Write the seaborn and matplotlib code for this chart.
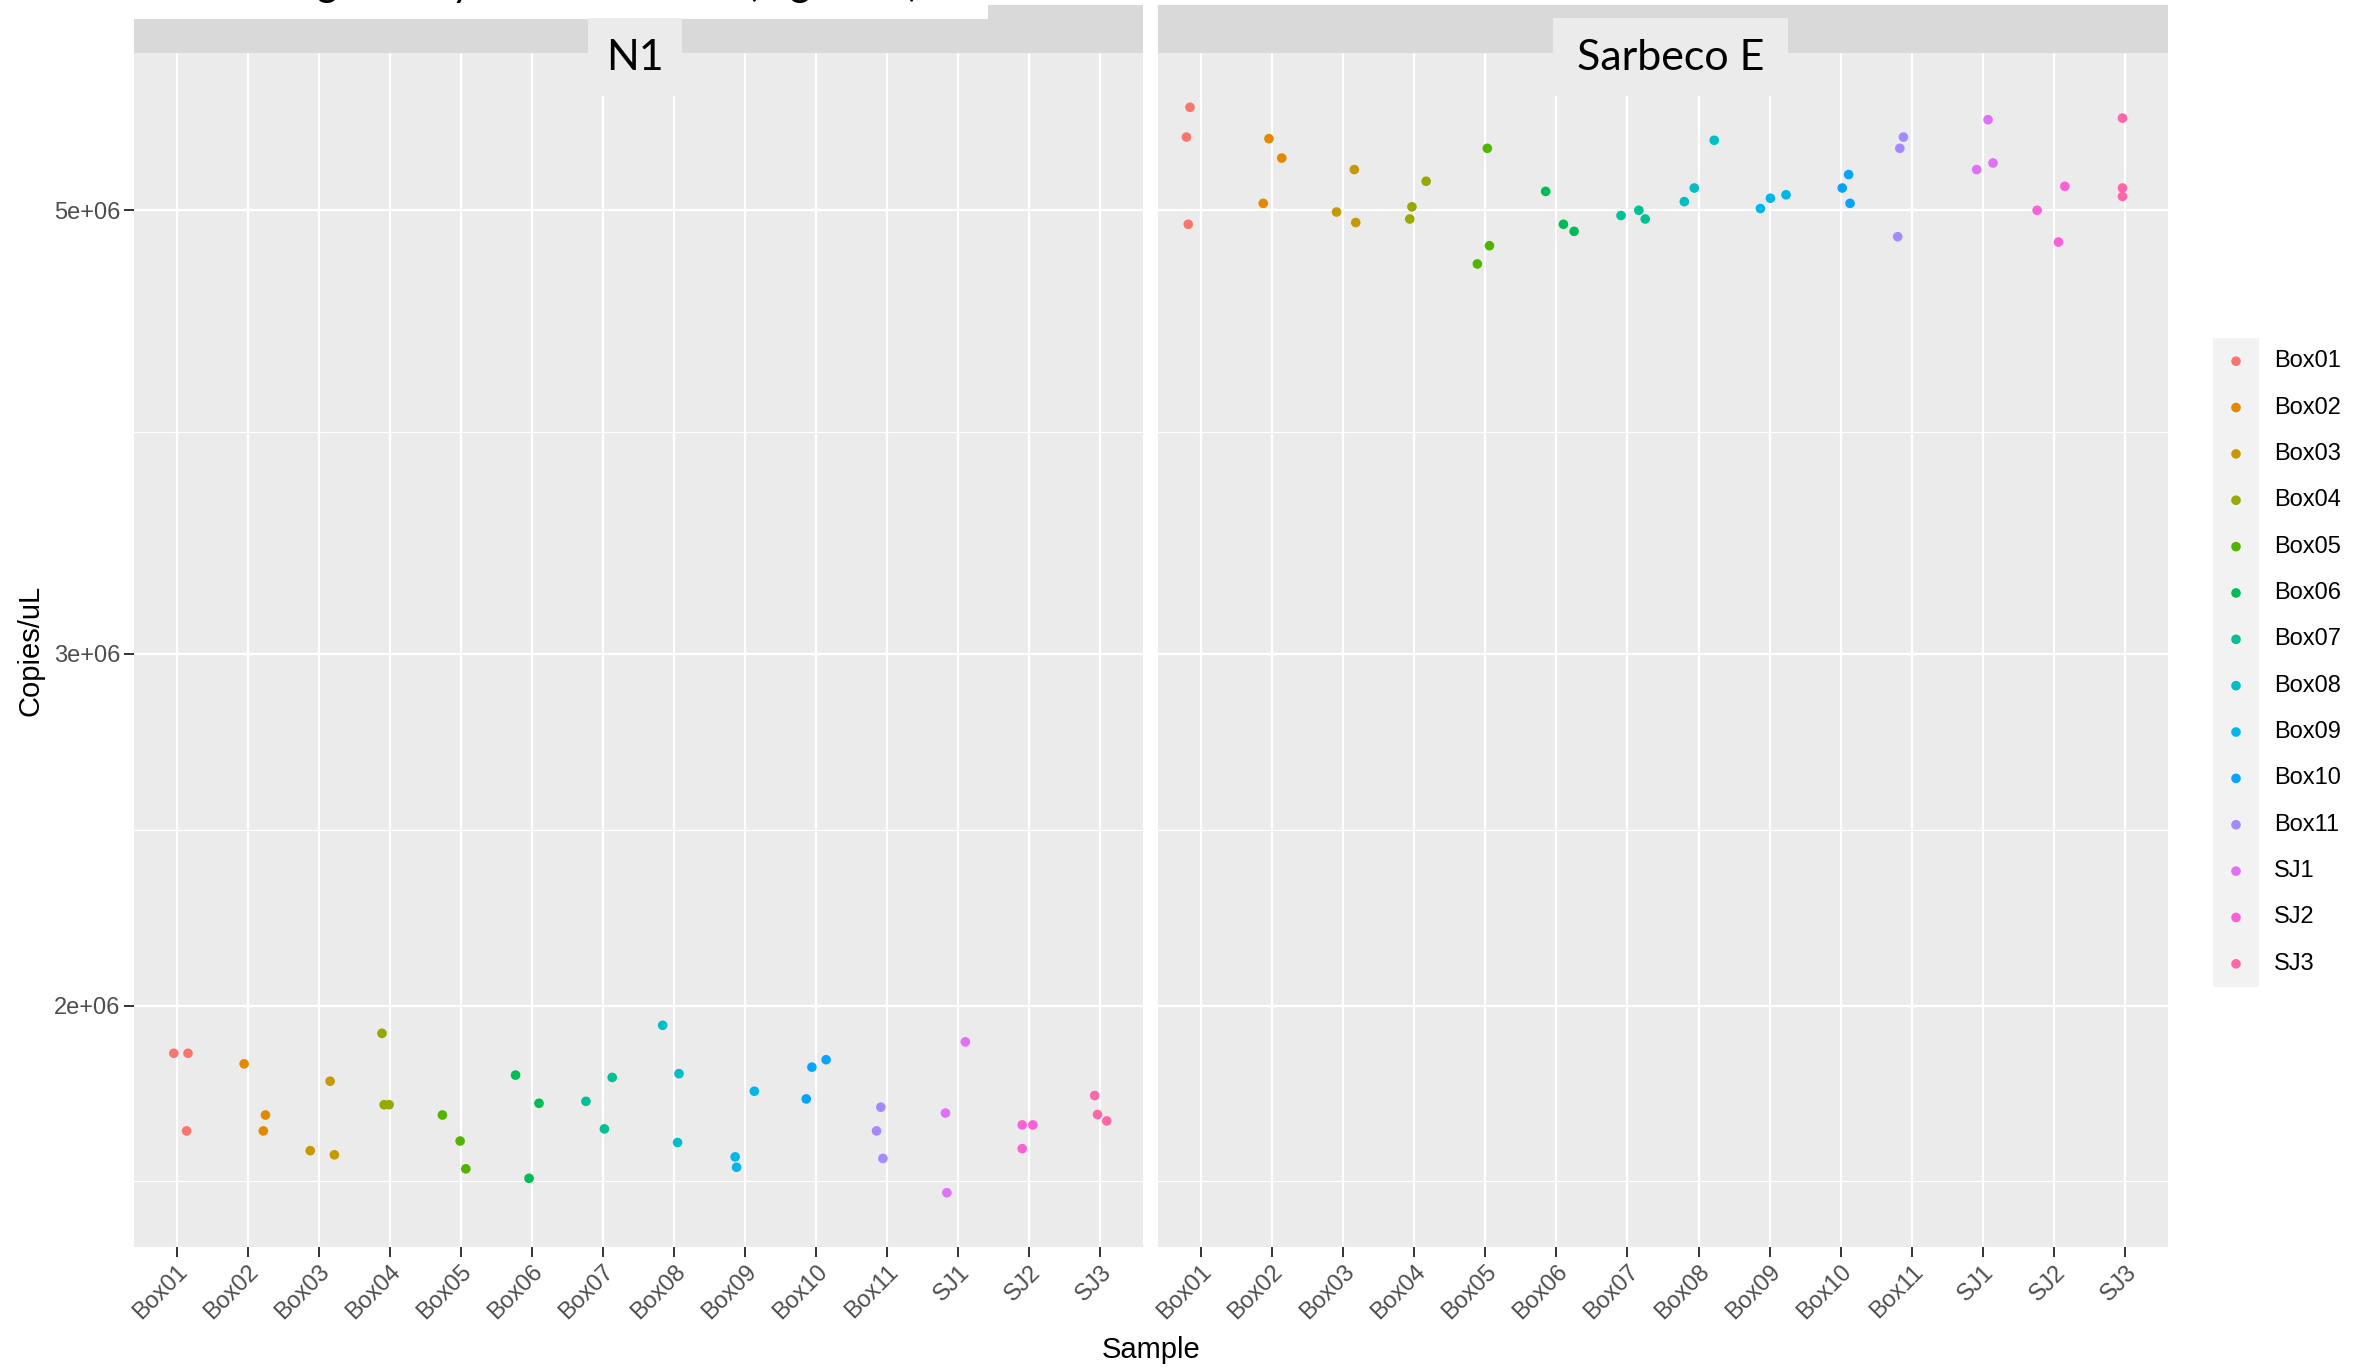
import numpy as np
import pandas as pd
import matplotlib
matplotlib.use("Agg")
import matplotlib.pyplot as plt
from matplotlib.patches import Rectangle
from matplotlib.ticker import FixedLocator, FixedFormatter, NullFormatter
import seaborn as sns

# ---------------------------------------------------------------- data
samples = ["Box01", "Box02", "Box03", "Box04", "Box05", "Box06", "Box07",
           "Box08", "Box09", "Box10", "Box11", "SJ1", "SJ2", "SJ3"]

# three replicate wells per sample, in sample order
n1_copies = [1.893e6, 1.893e6, 1.731e6,
             1.870e6, 1.763e6, 1.731e6,
             1.833e6, 1.692e6, 1.684e6,
             1.937e6, 1.784e6, 1.784e6,
             1.763e6, 1.711e6, 1.657e6,
             1.846e6, 1.787e6, 1.639e6,
             1.791e6, 1.841e6, 1.735e6,
             1.955e6, 1.849e6, 1.708e6,
             1.812e6, 1.680e6, 1.660e6,
             1.879e6, 1.863e6, 1.796e6,
             1.779e6, 1.731e6, 1.677e6,
             1.918e6, 1.767e6, 1.612e6,
             1.743e6, 1.743e6, 1.696e6,
             1.803e6, 1.764e6, 1.751e6]
n1_jitter = [-0.04, 0.16, 0.14,
             -0.05, 0.25, 0.22,
             0.16, -0.12, 0.22,
             -0.11, -0.08, -0.01,
             -0.26, -0.01, 0.07,
             -0.23, 0.10, -0.04,
             -0.24, 0.13, 0.02,
             -0.16, 0.07, 0.05,
             0.13, -0.14, -0.12,
             0.14, -0.06, -0.14,
             -0.09, -0.15, -0.06,
             0.10, -0.18, -0.16,
             -0.10, 0.05, -0.10,
             -0.08, -0.04, 0.09]

sarbeco_copies = [5.63e6, 5.44e6, 4.92e6,
                  5.43e6, 5.31e6, 5.04e6,
                  5.24e6, 4.99e6, 4.93e6,
                  5.17e6, 5.02e6, 4.95e6,
                  5.37e6, 4.80e6, 4.70e6,
                  5.11e6, 4.92e6, 4.88e6,
                  4.97e6, 5.00e6, 4.95e6,
                  5.42e6, 5.13e6, 5.05e6,
                  5.09e6, 5.07e6, 5.01e6,
                  5.21e6, 5.13e6, 5.04e6,
                  5.44e6, 5.37e6, 4.85e6,
                  5.55e6, 5.28e6, 5.24e6,
                  5.14e6, 5.00e6, 4.82e6,
                  5.56e6, 5.13e6, 5.08e6]
sarbeco_jitter = [-0.15, -0.20, -0.175,
                  -0.04, 0.14, -0.12,
                  0.16, -0.09, 0.18,
                  0.17, -0.03, -0.06,
                  0.03, 0.06, -0.11,
                  -0.15, 0.10, 0.25,
                  -0.09, 0.16, 0.25,
                  0.22, -0.06, -0.20,
                  0.23, 0.01, -0.13,
                  0.11, 0.02, 0.13,
                  -0.12, -0.17, -0.20,
                  0.07, 0.14, -0.09,
                  0.15, -0.24, 0.06,
                  -0.04, -0.04, -0.04]

assays = ["N1", "Sarbeco E"]
y_breaks = [2e6, 3e6, 5e6]
y_break_labels = ["2e+06", "3e+06", "5e+06"]
title_text = "Average Assay Concentration (log scale)"

# ---------------------------------------------------------------- table
reps = 3
sample_col = np.repeat(samples, reps)
df = pd.concat([
    pd.DataFrame({"Assay": "N1", "Sample": sample_col,
                  "Copies": n1_copies, "Jitter": n1_jitter}),
    pd.DataFrame({"Assay": "Sarbeco E", "Sample": sample_col,
                  "Copies": sarbeco_copies, "Jitter": sarbeco_jitter}),
], ignore_index=True)
df["Sample"] = pd.Categorical(df["Sample"], categories=samples, ordered=True)
df["xpos"] = df["Sample"].cat.codes + df["Jitter"]


# ggplot-style hue palette (HCL, c=100, l=65)
def hcl_hex(h, c=100.0, l=65.0):
    hr = np.deg2rad(h)
    u, v = c * np.cos(hr), c * np.sin(hr)
    Xn, Yn, Zn = 95.047, 100.0, 108.883
    den = Xn + 15 * Yn + 3 * Zn
    un, vn = 4 * Xn / den, 9 * Yn / den
    Y = Yn * ((l + 16) / 116) ** 3
    up, vp = u / (13 * l) + un, v / (13 * l) + vn
    X = 9 * Y * up / (4 * vp)
    Z = Y * (12 - 3 * up - 20 * vp) / (4 * vp)
    X, Y, Z = X / 100, Y / 100, Z / 100
    rgb = np.array([3.2404542 * X - 1.5371385 * Y - 0.4985314 * Z,
                    -0.9692660 * X + 1.8760108 * Y + 0.0415560 * Z,
                    0.0556434 * X - 0.2040259 * Y + 1.0572252 * Z])
    rgb = np.where(rgb <= 0.0031308, 12.92 * rgb,
                   1.055 * np.clip(rgb, 0, None) ** (1 / 2.4) - 0.055)
    rgb = np.clip(rgb, 0, 1)
    return "#%02x%02x%02x" % tuple(int(round(c_ * 255)) for c_ in rgb)


n = len(samples)
hues = np.linspace(15, 375 - 360 / n, n)
colors = [hcl_hex(h) for h in hues]
palette = dict(zip(samples, colors))

# ---------------------------------------------------------------- figure
sns.set_theme(style="darkgrid")
plt.rcParams["font.family"] = ["Liberation Sans", "DejaVu Sans"]

W, H = 2361, 1369
fig = plt.figure(figsize=(W / 100, H / 100), dpi=100)
fig.patch.set_facecolor("white")


def box(x0, y0, x1, y1):
    return [x0 / W, 1 - y1 / H, (x1 - x0) / W, (y1 - y0) / H]


panel_top, panel_bot = 53, 1247
panels = [(134, 1143), (1158, 2168)]

# y range: 5 % expansion of the data range in log space
logv = np.log10(df["Copies"].to_numpy())
span = logv.max() - logv.min()
ylim = (10 ** (logv.min() - 0.05 * span), 10 ** (logv.max() + 0.05 * span))

# minor breaks halfway between majors in log space
lb = np.log10(y_breaks)
minor = list(10 ** ((lb[:-1] + lb[1:]) / 2))
minor.insert(0, 10 ** (lb[0] - (lb[1] - lb[0]) / 2))

axes = []
for i, (assay, (x0, x1)) in enumerate(zip(assays, panels)):
    ax = fig.add_axes(box(x0, panel_top, x1, panel_bot))
    ax.set_facecolor("#EBEBEB")
    sub = df[df["Assay"] == assay]
    sns.scatterplot(data=sub, x="xpos", y="Copies", hue="Sample",
                    hue_order=samples, palette=palette, s=48, linewidth=0,
                    legend=False, ax=ax, zorder=3)
    ax.set_yscale("log")
    ax.set_ylim(*ylim)
    ax.set_xlim(-0.6, n - 1 + 0.6)
    ax.yaxis.set_major_locator(FixedLocator(y_breaks))
    ax.yaxis.set_major_formatter(FixedFormatter(y_break_labels))
    ax.yaxis.set_minor_locator(FixedLocator(minor))
    ax.yaxis.set_minor_formatter(NullFormatter())
    ax.set_xticks(range(n))
    ax.set_xticklabels(samples, rotation=45, ha="right", va="top",
                       rotation_mode="anchor")
    ax.set_xlabel("")
    ax.set_ylabel("")
    for s in ax.spines.values():
        s.set_visible(False)
    ax.grid(which="major", color="white", linewidth=1.6, zorder=0)
    ax.grid(which="minor", axis="y", color="white", linewidth=0.8, zorder=0)
    ax.grid(which="minor", axis="x", visible=False)
    ax.set_axisbelow(True)
    ax.tick_params(which="major", length=7, width=1.4, color="#333333",
                   labelcolor="#4D4D4D", labelsize=17, pad=3,
                   bottom=True, left=True)
    ax.tick_params(which="minor", length=0)
    if i > 0:
        ax.tick_params(axis="y", left=False, labelleft=False)
    axes.append(ax)

# ---------------------------------------------------------------- strips
def add_rect(x0, y0, x1, y1, color, z):
    fig.add_artist(Rectangle((x0 / W, 1 - y1 / H), (x1 - x0) / W,
                             (y1 - y0) / H, transform=fig.transFigure,
                             facecolor=color, edgecolor="none", zorder=z))


for (x0, x1) in panels:
    add_rect(x0, 5, x1, panel_top, "#D9D9D9", 5)

# title panel over the upper strip edge; the title runs off the top edge
add_rect(0, 0, 988, 19, "white", 6)
fig.text(213 / W, 1 + 4 / H, title_text, family=["Lato", "DejaVu Sans"],
         fontsize=29, ha="left", va="baseline", color="black", zorder=7)

# facet labels
label_boxes = [(588, 682), (1553, 1788)]
for assay, (bx0, bx1) in zip(assays, label_boxes):
    add_rect(bx0, 18, bx1, 96, "#EBEBEB", 8)
    fig.text((bx0 + bx1) / 2 / W, 1 - 58 / H, assay,
             family=["Lato", "DejaVu Sans"], fontsize=31,
             ha="center", va="center", color="black", zorder=9)

# ---------------------------------------------------------------- axis titles
fig.text((134 + 2168) / 2 / W, 1 - 1350 / H, "Sample", fontsize=21,
         ha="center", va="center", color="black")
fig.text(30 / W, 1 - (panel_top + panel_bot) / 2 / H, "Copies/uL",
         fontsize=21, rotation=90, ha="center", va="center", color="black")

# ---------------------------------------------------------------- legend
lx0, lx1, ly0, ly1 = 2213, 2259, 338, 987
axl = fig.add_axes(box(lx0, ly0, lx1, ly1))
axl.set_facecolor("#F2F2F2")
axl.set_xlim(0, 1)
axl.set_ylim(n, 0)
axl.set_xticks([])
axl.set_yticks([])
for s in axl.spines.values():
    s.set_visible(False)
axl.grid(False)
key_y = np.arange(n) + 0.5
axl.scatter(np.full(n, 0.5), key_y, c=colors, s=48, linewidths=0)
for yy, name in zip(key_y, samples):
    axl.text(1.33, yy, name, fontsize=17, ha="left", va="center",
             color="black", clip_on=False)

fig.savefig("out.png", dpi=100, facecolor="white")
